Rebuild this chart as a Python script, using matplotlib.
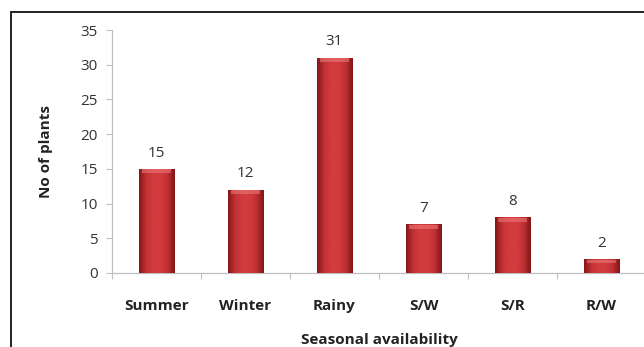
import numpy as np
import matplotlib.pyplot as plt
from matplotlib.colors import LinearSegmentedColormap
from matplotlib.patches import Rectangle

seasons = ["Summer", "Winter", "Rainy", "S/W", "S/R", "R/W"]
plant_counts = [15, 12, 31, 7, 8, 2]
y_ticks = [0, 5, 10, 15, 20, 25, 30, 35]

plt.rcParams["font.family"] = ["Open Sans", "DejaVu Sans"]

fig = plt.figure(figsize=(6.44, 3.47), dpi=100)
ax = fig.add_axes([112 / 644, 1 - 273 / 347, 534 / 644, 243 / 347])

x = np.arange(len(seasons))
bar_width = 0.40
bars = ax.bar(x, plant_counts, width=bar_width, color="#c8383b",
              edgecolor="#7a1416", linewidth=0.6, zorder=2)

# rounded-edge shading: dark edges, flat red centre
shade = LinearSegmentedColormap.from_list(
    "shade", ["#861719", "#c23234", "#d23c3e", "#d23c3e", "#c03033", "#821618"])
grad = np.linspace(0, 1, 64).reshape(1, -1)
for bar in bars:
    x0, w, h = bar.get_x(), bar.get_width(), bar.get_height()
    im = ax.imshow(grad, cmap=shade, aspect="auto", extent=(x0, x0 + w, 0, h),
                   zorder=3, interpolation="bicubic")
    im.set_clip_path(bar)
    # lighter top bevel
    bevel = min(0.6, h * 0.3)
    ax.add_patch(Rectangle((x0 + w * 0.08, h - bevel), w * 0.84, bevel * 0.85,
                           facecolor="#ec7778", edgecolor="none", alpha=0.6,
                           zorder=4))
    ax.text(x0 + w / 2, h + 1.2, f"{int(h)}", ha="center", va="bottom",
            fontsize=11, color="#333333", zorder=5)

ax.set_xlim(-0.5, len(seasons) - 0.5)
ax.set_ylim(0, 35)
ax.set_yticks(y_ticks)
ax.tick_params(axis="y", labelsize=11, labelcolor="#333333", color="#bfbfbf",
               length=4, width=0.8, pad=6)
ax.set_xticks(x)
ax.set_xticklabels(seasons, fontsize=11, fontweight="bold", color="#222222")
ax.set_xticks(np.arange(len(seasons) + 1) - 0.5, minor=True)
ax.tick_params(axis="x", which="major", length=0, pad=19)
ax.tick_params(axis="x", which="minor", length=4, width=0.8, color="#bfbfbf")

for side in ["top", "right"]:
    ax.spines[side].set_visible(False)
for side in ["left", "bottom"]:
    ax.spines[side].set_color("#bfbfbf")
    ax.spines[side].set_linewidth(0.9)

ax.set_xlabel("Seasonal availability", fontsize=11, fontweight="bold",
              color="#222222", labelpad=14)
ax.set_ylabel("No of plants", fontsize=11, fontweight="bold",
              color="#222222", labelpad=20)

# outer frame, cut off on the right and bottom
frame_top = 1 - 12 / 347
fig.patches.append(Rectangle((11 / 644, -0.2), 1.2, frame_top + 0.2,
                             transform=fig.transFigure, fill=False,
                             edgecolor="#222222", linewidth=1.4))

fig.savefig("out.png", dpi=100)
